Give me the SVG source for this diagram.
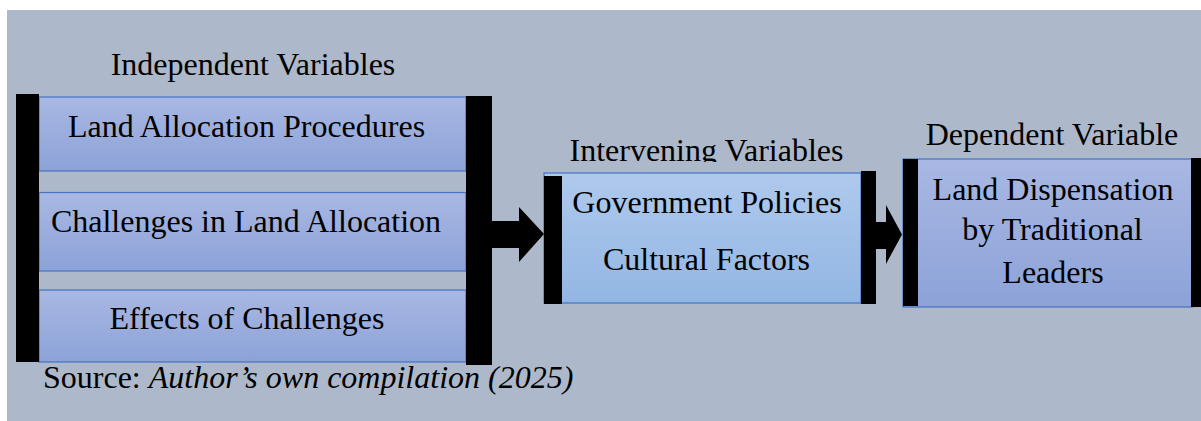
<svg xmlns="http://www.w3.org/2000/svg" width="1201" height="421" viewBox="0 0 1201 421">
  <style>
    .t { font-family: "Liberation Serif", "Times New Roman", serif; font-size: 32px; fill: #000; }
    .c { text-anchor: middle; }
    .bar { fill: #000; }
    .box { stroke: #4472C4; stroke-width: 1.2; }
    .arrow { fill: #000; }
  </style>
  <defs>
    <linearGradient id="gPurple" x1="0" y1="0" x2="0" y2="1">
      <stop offset="0" stop-color="#A9B8E3"/>
      <stop offset="1" stop-color="#8CA2D8"/>
    </linearGradient>
    <linearGradient id="gBlue" x1="0" y1="0" x2="0" y2="1">
      <stop offset="0" stop-color="#AFC9EC"/>
      <stop offset="1" stop-color="#92B6E3"/>
    </linearGradient>
    <clipPath id="clipInterv">
      <rect x="540" y="120" width="340" height="42"/>
    </clipPath>
  </defs>

  <rect x="7" y="10" width="1194" height="411" fill="#ADB9CA"/>

  <g id="independent">
    <text class="t c" x="253" y="75">Independent Variables</text>
    <g id="land-allocation-procedures">
      <rect class="box" x="39" y="97" width="427" height="74" fill="url(#gPurple)"/>
      <text class="t c" x="246.5" y="137">Land Allocation Procedures</text>
    </g>
    <g id="challenges">
      <rect class="box" x="39" y="192.5" width="427" height="78.5" fill="url(#gPurple)"/>
      <text class="t c" x="246" y="232">Challenges in Land Allocation</text>
    </g>
    <g id="effects">
      <rect class="box" x="39" y="290" width="427" height="72" fill="url(#gPurple)"/>
      <text class="t c" x="247" y="329">Effects of Challenges</text>
    </g>
    <rect class="bar" x="16" y="94" width="23" height="268"/>
    <rect class="bar" x="466" y="96" width="26" height="269"/>
  </g>

  <g id="intervening">
    <text class="t c" x="706.5" y="161" clip-path="url(#clipInterv)">Intervening Variables</text>
    <rect class="box" x="544" y="173" width="317" height="130" fill="url(#gBlue)"/>
    <rect class="bar" x="544" y="176" width="18" height="128"/>
    <rect class="bar" x="861" y="171" width="15" height="133"/>
    <text class="t c" x="707" y="213">Government Policies</text>
    <text class="t c" x="706.5" y="270">Cultural Factors</text>
  </g>

  <g id="dependent">
    <text class="t c" x="1052" y="145">Dependent Variable</text>
    <rect class="box" x="903" y="159" width="290" height="148" fill="url(#gPurple)"/>
    <rect class="bar" x="903" y="159" width="15" height="147"/>
    <rect class="bar" x="1191" y="158" width="10" height="149"/>
    <text class="t c" x="1053" y="200">Land Dispensation</text>
    <text class="t c" x="1052.5" y="240">by Traditional</text>
    <text class="t c" x="1053" y="283">Leaders</text>
  </g>

  <g id="connectors">
    <polygon class="arrow" points="492,221 519,221 519,207 544,234 519,262 519,248 492,248"/>
    <polygon class="arrow" points="876,222 886,222 886,205 902,234.5 886,264 886,249 876,249"/>
  </g>

  <g id="source">
    <text class="t" x="43" y="388">Source: <tspan font-style="italic">Author’s own compilation (2025)</tspan></text>
  </g>
</svg>
